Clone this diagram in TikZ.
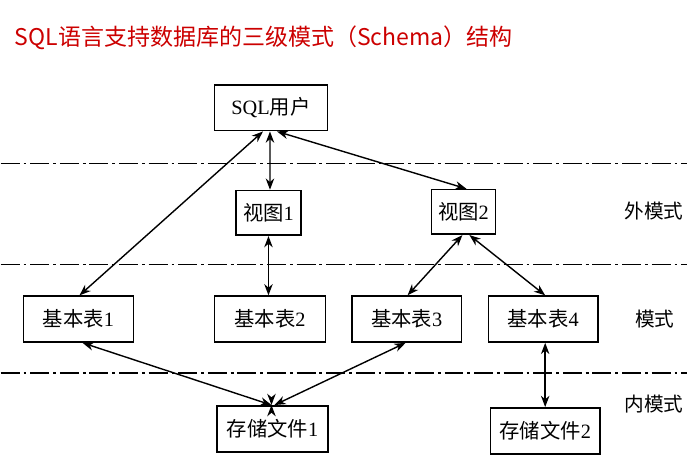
\documentclass[tikz,border=0pt]{standalone}
\usepackage{fontspec}
\setmainfont{Liberation Serif}
\newfontfamily\cjk{Noto Sans CJK SC}
\usetikzlibrary{arrows.meta, calc}
\definecolor{titlered}{RGB}{204, 0, 0}

\begin{document}
\begin{tikzpicture}[x=0.025cm, y=-0.025cm,
    box/.style={draw=black, line width=1.15pt, minimum height=1.15cm, inner sep=2pt, font=\fontsize{14.5}{16}\selectfont},
    link/.style={{Stealth[length=8pt, width=6pt, inset=2.5pt]}-{Stealth[length=8pt, width=6pt, inset=2.5pt]}, line width=1pt},
    layerline/.style={line width=1.05pt, dash pattern=on 13.5pt off 2.8pt on 2pt off 2.8pt},
    lvl/.style={font=\cjk\fontsize{14}{16}\selectfont}]
                % --- Rahmen und Titel ---
                \path[fill=white] (0,0) rectangle (688,472);
                \node[anchor=west, inner sep=0pt, text=titlered, font=\cjk\fontsize{16.4}{18}\selectfont] (title) at (14,38) {SQL语言支持数据库的三级模式（Schema）结构};

                % --- Ebenen-Trennlinien ---
                \draw[layerline] (0,164) -- (688,164);
                \draw[layerline] (0,265) -- (688,265);
                \draw[layerline] (0,374) -- (688,374);

                % --- Ebenen-Beschriftung ---
                \node[lvl] (ext) at (655,212) {外模式};
                \node[lvl] (mid) at (656,320) {模式};
                \node[lvl] (int) at (655,405) {内模式};

                % --- Benutzer und Sichten ---
                \node[box, minimum width=2.83cm] (user) at (271,108) {SQL{\cjk 用户}};
                \node[box, minimum width=1.63cm, minimum height=1.12cm] (v1) at (268.5,213.5) {{\cjk 视图}1};
                \node[box, minimum width=1.6cm, minimum height=1.12cm] (v2) at (464,212.5) {{\cjk 视图}2};

                % --- Basistabellen ---
                \node[box, minimum width=2.75cm] (t1) at (78,320) {{\cjk 基本表}1};
                \node[box, minimum width=2.78cm] (t2) at (270,320) {{\cjk 基本表}2};
                \node[box, minimum width=2.75cm] (t3) at (407,320) {{\cjk 基本表}3};
                \node[box, minimum width=2.75cm] (t4) at (544,320) {{\cjk 基本表}4};

                % --- Speicherdateien ---
                \node[box, minimum width=2.78cm] (f1) at (272.5,430) {{\cjk 存储文件}1};
                \node[box, minimum width=2.75cm] (f2) at (546,432) {{\cjk 存储文件}2};

                % --- Verbindungen ---
                \draw[link] ($(user.south)+(-8,0)$) -- ($(t1.north)+(1,0)$);
                \draw[link] ($(user.south)+(-1,0)$) -- ($(v1.north)+(1.5,0)$);
                \draw[link] ($(user.south)+(6,0)$) -- ($(v2.north)+(3,0)$);
                \draw[link] (v1.south) -- (v1.south |- t2.north);
                \draw[link] ($(v2.south)+(-1,0)$) -- ($(t3.north)+(1,0)$);
                \draw[link] ($(v2.south)+(6,0)$) -- ($(t4.north)+(2,0)$);
                \draw[link] ($(f1.north)+(-1,0)$) -- ($(t1.south)+(4,0)$);
                \draw[link] ($(f1.north)+(-1,0)$) -- ($(f1.north)+(-1,0)$ |- t2.south);
                \draw[link] ($(f1.north)+(2,0)$) -- ($(t3.south)+(-1,0)$);
                \draw[link] (f2.north) -- (f2.north |- t4.south);
            \end{tikzpicture}
\end{document}
